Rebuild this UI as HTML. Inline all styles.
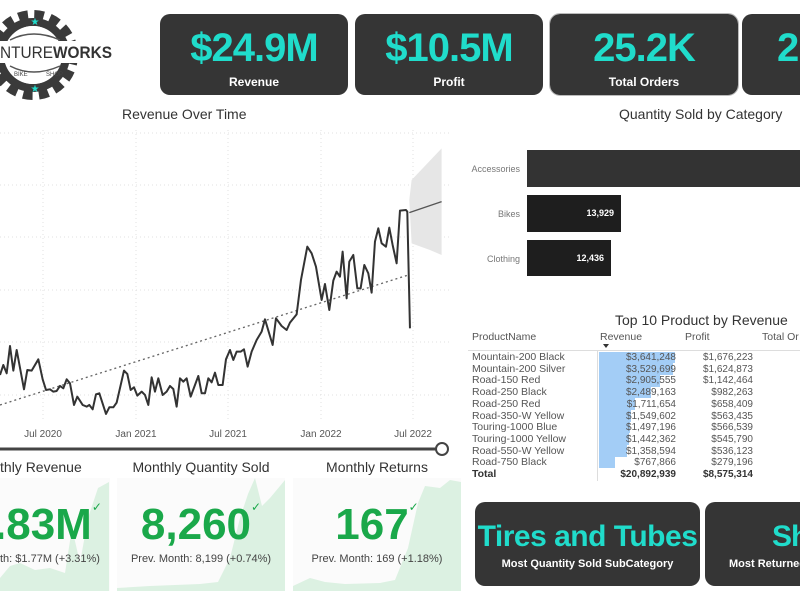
<!DOCTYPE html>
<html><head><meta charset="utf-8"><style>
*{margin:0;padding:0;box-sizing:border-box}
body{width:800px;height:600px;overflow:hidden;background:#fff;font-family:"Liberation Sans",sans-serif;position:relative}
.a{position:absolute}
.card{position:absolute;background:#353535;border-radius:10px;color:#fff;text-align:center}
.cv{color:#20dccb;font-weight:bold;font-size:40px;letter-spacing:-1px;position:absolute;left:0;right:0;top:12px}
.cl{font-size:12px;font-weight:bold;position:absolute;left:0;right:0;top:61px}
.t{font-size:14px;color:#333;white-space:nowrap}
.tb{font-size:10.5px;color:#555;white-space:nowrap;line-height:11.7px}
.r{text-align:right}
.kt{font-size:14px;color:#333;text-align:center;white-space:nowrap}
.kv{color:#1aa84a;font-weight:bold;font-size:44px;text-align:center;white-space:nowrap}
.kp{font-size:11px;color:#444;text-align:center;white-space:nowrap}
</style></head><body>

<!-- logo -->
<svg class="a" style="left:0;top:0" width="140" height="100">
<circle cx="33" cy="55" r="38" fill="none" stroke="#3a3a3a" stroke-width="14" stroke-dasharray="9 6"/>
<circle cx="33" cy="55" r="33" fill="none" stroke="#3a3a3a" stroke-width="8"/>
<circle cx="33" cy="55" r="29" fill="#fff"/>
<path d="M10 40 Q33 28 60 40" fill="none" stroke="#555" stroke-width="1.5"/>
<path d="M10 66 Q33 78 60 66" fill="none" stroke="#555" stroke-width="1.5"/>
<text x="35" y="25" font-size="10" fill="#20dccb" text-anchor="middle">★</text>
<text x="35" y="92" font-size="10" fill="#20dccb" text-anchor="middle">★</text>
<rect x="0" y="41" width="113" height="22" fill="#fff"/>
<text x="0" y="58" font-size="17" font-family="Liberation Sans" fill="#333" textLength="112" lengthAdjust="spacingAndGlyphs">NTURE<tspan font-weight="bold">WORKS</tspan></text>
<text x="14" y="76" font-size="6" fill="#444">BIKE</text><text x="46" y="76" font-size="6" fill="#444">SHOP</text>
</svg>

<div class="card" style="left:160px;top:14px;width:188px;height:81px"><div class="cv">$24.9M</div><div class="cl">Revenue</div></div>
<div class="card" style="left:355px;top:14px;width:188px;height:81px"><div class="cv">$10.5M</div><div class="cl">Profit</div></div>
<div class="card" style="left:550px;top:14px;width:188px;height:81px;outline:1px solid #bbb"><div class="cv">25.2K</div><div class="cl">Total Orders</div></div>
<div class="card" style="left:742px;top:14px;width:80px;height:81px"><div class="cv" style="text-align:left;left:35px">2</div></div>

<div class="a t" style="left:122px;top:106px">Revenue Over Time</div>
<div class="a t" style="left:619px;top:106px">Quantity Sold by Category</div>

<!-- line chart -->
<svg class="a" style="left:0;top:130px" width="460" height="330">
<g stroke="#e0e0e0" stroke-width="1" stroke-dasharray="1 3">
<line x1="0" y1="3" x2="450" y2="3"/><line x1="0" y1="55" x2="450" y2="55"/><line x1="0" y1="107" x2="450" y2="107"/><line x1="0" y1="160" x2="450" y2="160"/><line x1="0" y1="212" x2="450" y2="212"/><line x1="0" y1="265" x2="450" y2="265"/>
<line x1="43" y1="0" x2="43" y2="290"/><line x1="136" y1="0" x2="136" y2="290"/><line x1="228" y1="0" x2="228" y2="290"/><line x1="321" y1="0" x2="321" y2="290"/><line x1="413" y1="0" x2="413" y2="290"/>
</g>
<g transform="scale(0.3333)">
<polygon points="1228,210 1235,150 1325,55 1325,375 1290,360 1235,340" fill="#e6e6e6"/>
<line x1="0" y1="825" x2="1225" y2="435" stroke="#666" stroke-width="4" stroke-dasharray="6 9"/>
<line x1="1228" y1="248" x2="1325" y2="215" stroke="#555" stroke-width="4"/>
<polyline fill="none" stroke="#333" stroke-width="6" stroke-linejoin="round" points="0,735 10,705 20,730 30,648 40,722 50,660 72,778 82,720 95,722 115,688 128,748 138,780 150,778 160,785 170,783 180,768 190,775 200,748 210,760 222,825 232,800 248,825 260,830 268,825 278,838 288,793 298,790 318,852 328,832 340,832 350,818 372,722 382,732 392,780 402,772 412,797 425,785 435,795 445,825 455,742 465,785 475,745 488,795 500,785 510,768 520,777 530,830 540,745 550,755 560,745 572,800 585,765 595,738 605,790 615,790 625,745 635,757 645,728 655,765 668,765 678,688 690,660 700,690 710,665 722,665 732,658 743,710 755,665 770,630 785,605 795,568 818,645 828,565 845,588 860,600 870,578 890,553 903,450 922,350 935,370 948,410 965,510 975,462 988,540 1000,452 1010,425 1020,440 1028,365 1040,505 1048,395 1060,375 1072,475 1082,475 1093,405 1105,430 1115,488 1125,335 1135,295 1145,340 1158,350 1168,293 1178,345 1190,400 1200,242 1218,240 1222,245 1230,595"/>
</g>
<g font-size="10" fill="#555" text-anchor="middle" font-family="Liberation Sans">
<text x="43" y="307">Jul 2020</text><text x="136" y="307">Jan 2021</text><text x="228" y="307">Jul 2021</text><text x="321" y="307">Jan 2022</text><text x="413" y="307">Jul 2022</text>
</g>
<line x1="0" y1="319" x2="436" y2="319" stroke="#444" stroke-width="3"/>
<circle cx="442" cy="319" r="6" fill="#fff" stroke="#444" stroke-width="2"/>
</svg>

<!-- bar chart -->
<div class="a tb r" style="left:440px;top:164px;width:80px;font-size:9px;color:#777">Accessories</div>
<div class="a tb r" style="left:440px;top:209px;width:80px;font-size:9px;color:#777">Bikes</div>
<div class="a tb r" style="left:440px;top:254px;width:80px;font-size:9px;color:#777">Clothing</div>
<div class="a" style="left:527px;top:150px;width:273px;height:37px;background:#333"></div>
<div class="a" style="left:527px;top:195px;width:94px;height:37px;background:#1e1e1e;color:#fff;font-size:9px;font-weight:bold;text-align:right;padding:13px 7px 0 0">13,929</div>
<div class="a" style="left:527px;top:240px;width:84px;height:36px;background:#1e1e1e;color:#fff;font-size:9px;font-weight:bold;text-align:right;padding:13px 7px 0 0">12,436</div>

<!-- table -->
<div class="a t" style="left:615px;top:312px">Top 10 Product by Revenue</div>
<div class="a tb" style="left:472px;top:332px">ProductName</div>
<div class="a tb" style="left:600px;top:332px">Revenue</div>
<div class="a tb" style="left:685px;top:332px">Profit</div>
<div class="a tb" style="left:762px;top:332px">Total Or</div>
<div class="a" style="left:603px;top:344px;width:0;height:0;border-left:3px solid transparent;border-right:3px solid transparent;border-top:4px solid #333"></div>
<div class="a" style="left:468px;top:350px;width:332px;height:1px;background:#ddd"></div>
<div class="a" style="left:597px;top:351px;width:1px;height:130px;background:#ddd"></div>
<div class="a" style="left:599px;top:352px;width:76px;height:11px;background:#a3cdf6"></div>
<div class="a" style="left:599px;top:363px;width:74px;height:12px;background:#a3cdf6"></div>
<div class="a" style="left:599px;top:375px;width:61px;height:12px;background:#a3cdf6"></div>
<div class="a" style="left:599px;top:387px;width:52px;height:11px;background:#a3cdf6"></div>
<div class="a" style="left:599px;top:398px;width:36px;height:12px;background:#a3cdf6"></div>
<div class="a" style="left:599px;top:410px;width:32px;height:12px;background:#a3cdf6"></div>
<div class="a" style="left:599px;top:422px;width:31px;height:11px;background:#a3cdf6"></div>
<div class="a" style="left:599px;top:433px;width:30px;height:12px;background:#a3cdf6"></div>
<div class="a" style="left:599px;top:445px;width:28px;height:12px;background:#a3cdf6"></div>
<div class="a" style="left:599px;top:457px;width:16px;height:11px;background:#a3cdf6"></div>
<div class="a tb" style="left:472px;top:352px">Mountain-200 Black<br>Mountain-200 Silver<br>Road-150 Red<br>Road-250 Black<br>Road-250 Red<br>Road-350-W Yellow<br>Touring-1000 Blue<br>Touring-1000 Yellow<br>Road-550-W Yellow<br>Road-750 Black<br><b style="color:#333">Total</b></div>
<div class="a tb r" style="left:596px;top:352px;width:80px;font-size:10px">$3,641,248<br>$3,529,699<br>$2,905,555<br>$2,489,163<br>$1,711,654<br>$1,549,602<br>$1,497,196<br>$1,442,362<br>$1,358,594<br>$767,866<br><b style="color:#333">$20,892,939</b></div>
<div class="a tb r" style="left:673px;top:352px;width:80px;font-size:10px">$1,676,223<br>$1,624,873<br>$1,142,464<br>$982,263<br>$658,409<br>$563,435<br>$566,539<br>$545,790<br>$536,123<br>$279,196<br><b style="color:#333">$8,575,314</b></div>

<!-- bottom KPI panels -->
<svg class="a" style="left:0;top:478px" width="470" height="115">
<rect x="0" y="0" width="110" height="113" fill="#fbfbfb"/>
<rect x="117" y="0" width="168" height="113" fill="#fbfbfb"/>
<rect x="293" y="0" width="168" height="113" fill="#fbfbfb"/>
<polygon points="0,100 10,88 20,85 35,92 50,90 65,95 72,50 80,85 88,40 98,10 109,4 109,113 0,113" fill="#dcf1e2"/>
<polygon points="117,110 150,108 200,106 218,104 230,80 240,40 248,16 255,0 262,28 270,20 285,2 285,113 117,113" fill="#dcf1e2"/>
<polygon points="293,108 310,100 325,104 345,106 380,105 395,102 408,70 418,25 425,8 440,10 450,2 461,4 461,113 293,113" fill="#dcf1e2"/>
</svg>
<div class="a kt" style="left:-8px;top:459px;width:90px">nthly Revenue</div>
<div class="a kt" style="left:117px;top:459px;width:168px">Monthly Quantity Sold</div>
<div class="a kt" style="left:293px;top:459px;width:168px">Monthly Returns</div>
<div class="a kv" style="left:-6px;top:500px">.83M<span style="font-size:12px;vertical-align:top;font-weight:normal">✓</span></div>
<div class="a kv" style="left:117px;top:500px;width:168px">8,260<span style="font-size:12px;vertical-align:top;font-weight:normal">✓</span></div>
<div class="a kv" style="left:293px;top:500px;width:168px">167<span style="font-size:12px;vertical-align:top;font-weight:normal">✓</span></div>
<div class="a kp" style="left:0;top:553px">th: $1.77M (+3.31%)</div>
<div class="a kp" style="left:117px;top:553px;width:168px">Prev. Month: 8,199 (+0.74%)</div>
<div class="a kp" style="left:293px;top:553px;width:168px">Prev. Month: 169 (+1.18%)</div>

<!-- bottom cards -->
<div class="card" style="left:475px;top:502px;width:225px;height:84px"><div class="cv" style="font-size:30px;top:18px;letter-spacing:-0.5px">Tires and Tubes</div><div class="cl" style="top:56px;font-size:11px">Most Quantity Sold SubCategory</div></div>
<div class="card" style="left:705px;top:502px;width:120px;height:84px"><div class="cv" style="font-size:30px;top:18px;text-align:left;left:67px">Sh</div><div class="cl" style="top:56px;font-size:11px;text-align:left;left:24px;white-space:nowrap">Most Returned</div></div>
</body></html>
